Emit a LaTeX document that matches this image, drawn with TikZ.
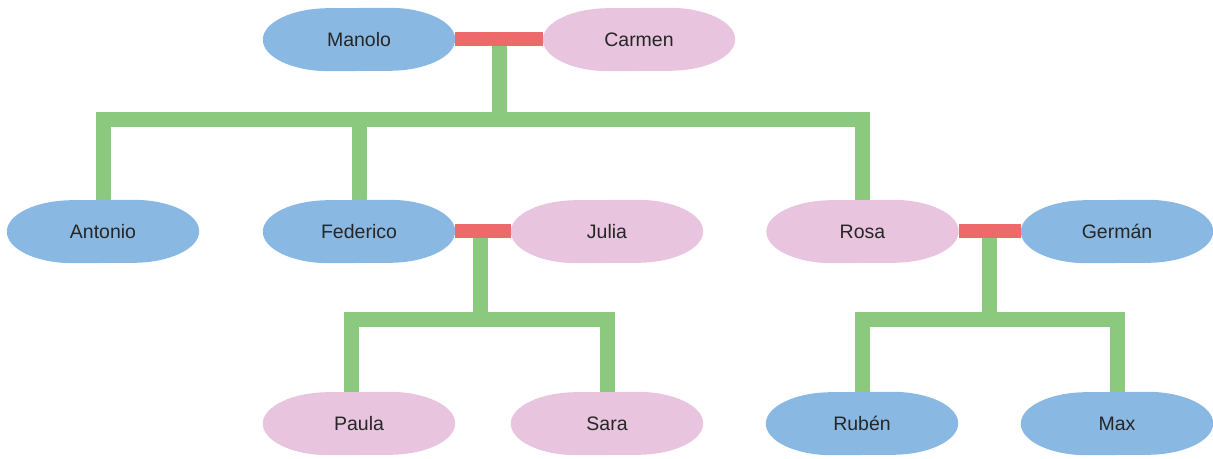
\documentclass[tikz,border=0pt]{standalone}
\usepackage{fontspec}
\setmainfont{Liberation Sans}
\usetikzlibrary{backgrounds,calc}
\definecolor{pblue}{RGB}{137,185,227}
\definecolor{ppink}{RGB}{232,196,222}
\definecolor{pred}{RGB}{238,106,106}
\definecolor{pgreen}{RGB}{139,202,126}
\definecolor{ptext}{RGB}{38,38,38}
\begin{document}
\begin{tikzpicture}[x=1pt,y=1pt,
  person/.style={minimum width=192pt,minimum height=63pt,inner sep=0pt,
    font=\fontsize{19.5}{22}\selectfont,text=ptext},
  couple/.style={draw=pred,line width=14pt},
  kid/.style={draw=pgreen,line width=15pt,line join=miter}]
\useasboundingbox (0,0) rectangle (1213,458);
% people
\node[person] (manolo)   at (359,418.5) {Manolo};
\node[person] (carmen)   at (639,418.5) {Carmen};
\node[person] (antonio)  at (103,226.5) {Antonio};
\node[person] (federico) at (359,226.5) {Federico};
\node[person] (julia)    at (607,226.5) {Julia};
\node[person] (rosa)     at (862.5,226.5) {Rosa};
\node[person] (german)   at (1117,226.5) {Germán};
\node[person] (paula)    at (359,34.5) {Paula};
\node[person] (sara)     at (607,34.5) {Sara};
\node[person] (ruben)    at (862,34.5) {Rubén};
\node[person] (max)      at (1117,34.5) {Max};
% junction coordinates
\coordinate (m1) at ($(manolo.east)!0.5!(carmen.west)$);
\coordinate (bus1) at (500,338.5);
\coordinate (m2) at (480,226.5);
\coordinate (bus2) at (480,138.5);
\coordinate (m3) at ($(rosa.east)!0.5!(german.west)$);
\coordinate (bus3) at (990,138.5);
\coordinate (pa) at (351,34.5);
\begin{scope}[on background layer]
  \foreach \n/\c in {manolo/pblue,carmen/ppink,antonio/pblue,federico/pblue,
      julia/ppink,rosa/ppink,german/pblue,paula/ppink,sara/ppink,ruben/pblue,max/pblue}
    \fill[\c] ($(\n.north east)+(-66,0)$)
      arc[start angle=90,end angle=-90,x radius=66,y radius=31.5]
      -- ($(\n.south west)+(66,0)$)
      arc[start angle=270,end angle=90,x radius=66,y radius=31.5] -- cycle;
  % children of Manolo and Carmen
  \draw[kid] (m1) -- (m1 |- bus1);
  \draw[kid] (antonio.north) -- (antonio.north |- bus1) -- (rosa.north |- bus1) -- (rosa.north);
  \draw[kid] (federico.north) -- (federico.north |- bus1);
  % children of Federico and Julia
  \draw[kid] (m2) -- (bus2);
  \draw[kid] (paula.north -| pa) -- (pa |- bus2) -- (sara.north |- bus2) -- (sara.north);
  % children of Rosa and German
  \draw[kid] (m3) -- (m3 |- bus3);
  \draw[kid] (ruben.north) -- (ruben.north |- bus3) -- (max.north |- bus3) -- (max.north);
  % couples
  \draw[couple] (manolo.east) -- (carmen.west);
  \draw[couple] (federico.east) -- (julia.west);
  \draw[couple] (rosa.east) -- (german.west);
\end{scope}
\end{tikzpicture}
\end{document}
